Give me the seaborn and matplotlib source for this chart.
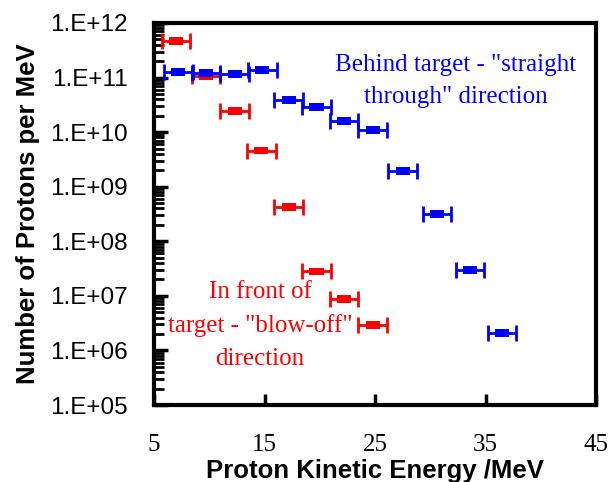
import numpy as np
import pandas as pd
import matplotlib
matplotlib.use("Agg")
import matplotlib.pyplot as plt
from matplotlib.ticker import LogLocator, FixedLocator, NullLocator, FuncFormatter
import seaborn as sns

# Proton spectra (energy in MeV, protons per MeV)
front_energy = [7.0, 9.7, 12.3, 14.7, 17.2, 19.7, 22.2, 24.8]
front_counts = [4.7e11, 1.07e11, 2.45e10, 4.6e9, 4.2e8, 2.8e7, 8.9e6, 2.9e6]

behind_energy = [7.2, 9.7, 12.3, 14.8, 17.2, 19.7, 22.2, 24.8, 27.5, 30.6, 33.6, 36.5]
behind_counts = [1.26e11, 1.2e11, 1.17e11, 1.38e11, 3.9e10, 2.9e10, 1.6e10,
                 1.1e10, 1.95e9, 3.2e8, 3.0e7, 2.1e6]

energy_halfwidth = 1.3  # MeV bin half-width

x_ticks = [5, 15, 25, 35, 45]
y_ticks = [1e5, 1e6, 1e7, 1e8, 1e9, 1e10, 1e11, 1e12]

front_label = 'In front of\ntarget - "blow-off"\ndirection'
behind_label = 'Behind target - "straight\nthrough" direction'

RED = "#ff0000"
BLUE = "#0000ff"

sns.set_style("white")
plt.rcParams["font.family"] = ["Liberation Sans", "DejaVu Sans"]
plt.rcParams.update({"text.color": "black", "axes.labelcolor": "black",
                     "xtick.color": "black", "ytick.color": "black"})

df = pd.concat([
    pd.DataFrame({"energy": front_energy, "counts": front_counts, "side": "front"}),
    pd.DataFrame({"energy": behind_energy, "counts": behind_counts, "side": "behind"}),
], ignore_index=True)

fig = plt.figure(figsize=(6.12, 4.82), dpi=100)
ax = fig.add_axes([154 / 612, 1 - 405 / 482, (596 - 154) / 612, (405 - 23) / 482])

# horizontal error bars for the energy bins
for side, color in (("front", RED), ("behind", BLUE)):
    sub = df[df["side"] == side]
    ax.errorbar(sub["energy"], sub["counts"], xerr=energy_halfwidth, fmt="none",
                ecolor=color, elinewidth=2, capsize=6, capthick=2, zorder=2)

# wide bar-shaped point markers
bar_marker = [(-1, -0.55), (1, -0.55), (1, 0.55), (-1, 0.55), (-1, -0.55)]
sns.scatterplot(data=df, x="energy", y="counts", hue="side",
                palette={"front": RED, "behind": BLUE}, marker=bar_marker,
                s=105, linewidth=0, legend=False, ax=ax, zorder=3)

ax.set_yscale("log")
ax.set_xlim(5, 45)
ax.set_ylim(1e5, 1e12)

ax.xaxis.set_major_locator(FixedLocator(x_ticks))
ax.xaxis.set_minor_locator(NullLocator())
ax.yaxis.set_major_locator(FixedLocator(y_ticks))
ax.yaxis.set_minor_locator(LogLocator(base=10, subs=np.arange(2, 10), numticks=20))
ax.yaxis.set_major_formatter(FuncFormatter(lambda v, p: "1.E+%02d" % int(round(np.log10(v)))))

ax.tick_params(axis="y", which="major", direction="in", length=10, width=2.5,
               left=True, right=False, pad=19, labelsize=17.5, colors="black")
ax.tick_params(axis="y", which="minor", direction="in", length=7, width=2.0,
               left=True, right=False, colors="black")
ax.tick_params(axis="x", which="major", direction="in", length=8, width=2.5,
               bottom=True, top=False, pad=21, labelsize=18, colors="black")
for lab in ax.get_xticklabels():
    lab.set_fontfamily(["Liberation Serif", "DejaVu Serif"])

for spine in ax.spines.values():
    spine.set_visible(True)
    spine.set_color("black")
    spine.set_linewidth(3)

ax.set_xlabel("Proton Kinetic Energy /MeV", fontsize=18.5, fontweight="bold",
              labelpad=2, color="black")
ax.set_ylabel("Number of Protons per MeV", fontsize=18.5, fontweight="bold",
              labelpad=7, color="black")

ax.text(32.3, 10 ** 10.94, behind_label, color=BLUE, fontsize=18, ha="center",
        va="center", multialignment="center", linespacing=1.62,
        family=["Liberation Serif", "DejaVu Serif"])
ax.text(14.6, 10 ** 6.46, front_label, color=RED, fontsize=18, ha="center",
        va="center", multialignment="center", linespacing=1.63,
        family=["Liberation Serif", "DejaVu Serif"])

fig.savefig("out.png", dpi=100, facecolor="white")
